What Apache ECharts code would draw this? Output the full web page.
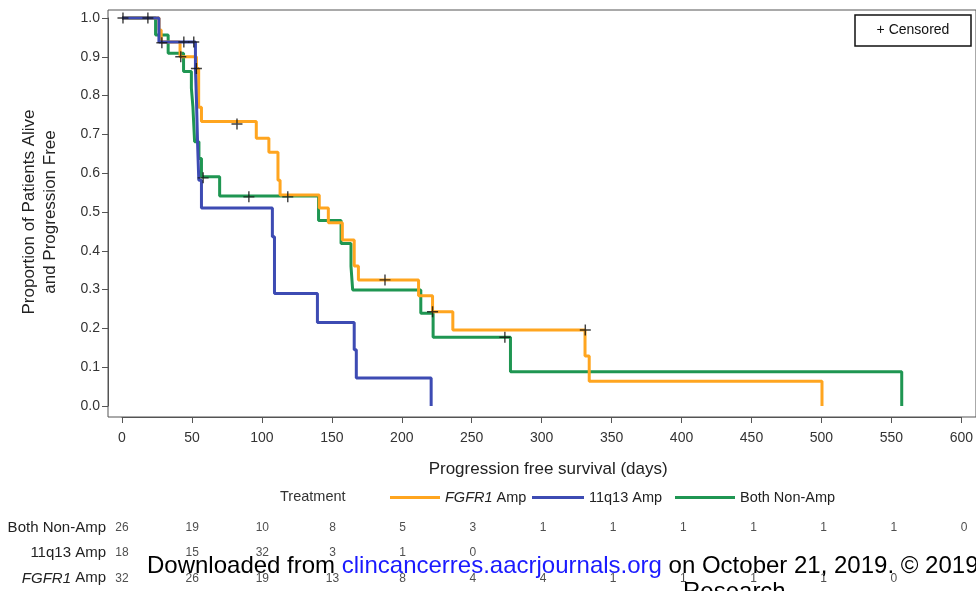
<!DOCTYPE html>
<html>
<head>
    <meta charset="utf-8">
    <title>PFS by treatment</title>
    <script type="text/javascript" src="https://cdn.jsdelivr.net/npm/echarts@6/dist/echarts.min.js"></script>
    <style>
        body { margin: 0; background: #fff; }
    </style>
</head>
<body>
    <div id="main" style="width: 976px;height:591px;"></div>
    <script type="text/javascript">
        // step curves: [day, proportion after that day]
        var fgfr1Steps = [[0, 1], [26.5, 0.969], [28, 0.938], [41.5, 0.900], [53.2, 0.87], [54.8, 0.77], [56.8, 0.733],
            [96, 0.69], [105, 0.654], [111.5, 0.582], [113, 0.544], [141, 0.51], [147.5, 0.472], [157.5, 0.428],
            [166, 0.361], [169, 0.325], [212, 0.284], [222, 0.243], [236.5, 0.196], [331, 0.129], [334, 0.064], [500.4, 0]];
        var q13Steps = [[0, 1], [26.4, 0.938], [52.5, 0.87], [53.3, 0.78], [54, 0.68], [54.9, 0.582], [56.8, 0.51],
            [107.5, 0.436], [109, 0.29], [139.7, 0.215], [166, 0.145], [167.5, 0.072], [221, 0]];
        var bothSteps = [[0, 1], [24, 0.956], [33, 0.909], [44, 0.862], [49.6, 0.819], [50.7, 0.771], [51.9, 0.681],
            [55, 0.638], [56.8, 0.591], [69.8, 0.541], [140.5, 0.478], [156.6, 0.419], [163.7, 0.36], [164.9, 0.299],
            [213.6, 0.239], [222.4, 0.177], [277.7, 0.088], [557.4, 0]];
        // censored marks
        var censored = [[0.7, 1], [18.5, 1], [28.5, 0.936], [44.2, 0.938], [51.3, 0.938], [42, 0.9], [53.2, 0.87],
            [58, 0.588], [82.2, 0.727], [90.7, 0.539], [118.5, 0.539], [188, 0.325], [222, 0.243], [273.7, 0.177], [331.2, 0.196]];

        // numbers at risk
        var riskDays = [0, 50, 100, 150, 200, 250, 300, 350, 400, 450, 500, 550, 600];
        var riskRows = ['FGFR1 Amp', '11q13 Amp', 'Both Non-Amp'];
        var riskBoth = [26, 19, 10, 8, 5, 3, 1, 1, 1, 1, 1, 1, 0];
        var riskQ13 = [18, 15, 32, 3, 1, 0];
        var riskFgfr1 = [32, 26, 19, 13, 8, 4, 4, 1, 1, 1, 1, 0];

        var seriesNames = ['FGFR1 Amp', '11q13 Amp', 'Both Non-Amp'];
        var colors = { 'FGFR1 Amp': '#FFA51F', '11q13 Amp': '#3D4BB3', 'Both Non-Amp': '#1F9652' };

        var font = 'Liberation Sans, Arial, sans-serif';
        var plusPath = 'path://M4.35,0h1.3v10h-1.3z M0,4.35h10v1.3h-10z';

        function riskData(row, values) {
            return values.map(function (v, i) { return [riskDays[i], row, v]; });
        }

        function stepSeries(name, data, z) {
            return {
                name: name,
                type: 'line',
                step: 'end',
                data: data,
                showSymbol: false,
                clip: false,
                z: z,
                lineStyle: { color: colors[name], width: 3 },
                itemStyle: { color: colors[name] },
                silent: true
            };
        }

        function italicName(v) {
            return v === 'FGFR1 Amp' ? '{i|FGFR1} Amp' : v;
        }

        function legendFor(name, left, width) {
            return {
                data: [name],
                left: left, top: 485,
                icon: 'rect', itemWidth: width, itemHeight: 3,
                selectedMode: false,
                textStyle: {
                    fontSize: 14.5, color: '#222', fontFamily: font,
                    rich: { i: { fontStyle: 'italic', fontSize: 14.5, color: '#222', fontFamily: font } }
                },
                formatter: italicName
            };
        }

        var chartDom = document.getElementById('main');
        var myChart = echarts.init(chartDom);
        var option = {
            animation: false,
            textStyle: { fontFamily: font },
            grid: [
                { left: 122, top: 18, width: 842, height: 388 },
                { left: 108, top: 10, width: 870, height: 407, show: true, borderColor: '#555', borderWidth: 1, backgroundColor: 'transparent', z: 1 },
                { left: 122, top: 515, width: 842, height: 78 }
            ],
            xAxis: [
                {
                    gridIndex: 0, type: 'value', min: 0, max: 600, interval: 50, offset: 11,
                    name: 'Progression free survival (days)', nameLocation: 'middle', nameGap: 44,
                    nameTextStyle: { fontSize: 17, color: '#222', fontFamily: font, padding: [0, 0, 0, 13] },
                    axisLine: { show: true, onZero: false, lineStyle: { color: '#555', width: 1 } },
                    axisTick: { show: true, length: 6, lineStyle: { color: '#555' } },
                    axisLabel: { fontSize: 14, color: '#333', margin: 14, fontFamily: font },
                    splitLine: { show: false }
                },
                { gridIndex: 1, type: 'value', min: 0, max: 1, show: false },
                { gridIndex: 2, type: 'value', min: 0, max: 600, show: false }
            ],
            yAxis: [
                {
                    gridIndex: 0, type: 'value', min: 0, max: 1, interval: 0.1, offset: 14,
                    name: 'Proportion of Patients Alive\nand Progression Free', nameLocation: 'middle', nameGap: 47,
                    nameTextStyle: { fontSize: 17, color: '#222', fontFamily: font, lineHeight: 21 },
                    axisLine: { show: true, onZero: false, lineStyle: { color: '#555', width: 1 } },
                    axisTick: { show: true, length: 6, lineStyle: { color: '#555' } },
                    axisLabel: {
                        fontSize: 14, color: '#333', margin: 8, fontFamily: font,
                        formatter: function (v) { return v.toFixed(1); }
                    },
                    splitLine: { show: false }
                },
                { gridIndex: 1, type: 'value', min: 0, max: 1, show: false },
                {
                    gridIndex: 2, type: 'category', data: riskRows, offset: 14,
                    axisLine: { show: false }, axisTick: { show: false },
                    axisLabel: {
                        fontSize: 15, color: '#222', margin: 2, fontFamily: font,
                        formatter: italicName,
                        rich: { i: { fontStyle: 'italic', fontSize: 15, color: '#222', fontFamily: font } }
                    }
                }
            ],
            legend: [
                legendFor('FGFR1 Amp', 385, 50),
                legendFor('11q13 Amp', 527, 52),
                legendFor('Both Non-Amp', 670, 60)
            ],
            graphic: [
                {
                    type: 'text', left: 280, top: 489,
                    style: { text: 'Treatment', fontSize: 14.5, fill: '#333', fontFamily: font }
                },
                {
                    type: 'rect', shape: { x: 855, y: 15, width: 116, height: 31 },
                    style: { fill: '#fff', stroke: '#111', lineWidth: 1.5 }, z: 50
                },
                {
                    type: 'text', x: 913, y: 30.5, z: 51,
                    style: { text: '+ Censored', fontSize: 14, fill: '#111', fontFamily: font, align: 'center', verticalAlign: 'middle' }
                },
                {
                    type: 'text', x: 147, y: 566, z: 100,
                    style: {
                        text: '{a|Downloaded from }{b|clincancerres.aacrjournals.org}{a| on October 21, 2019. © 2019 American Association for Cancer}',
                        verticalAlign: 'middle',
                        rich: {
                            a: { fontSize: 24, fill: '#000', fontFamily: font },
                            b: { fontSize: 24, fill: '#1a1aff', fontFamily: font }
                        }
                    }
                },
                {
                    type: 'text', x: 683, y: 592, z: 100,
                    style: { text: 'Research', fontSize: 24, fill: '#000', fontFamily: font, verticalAlign: 'middle' }
                }
            ],
            series: [
                stepSeries('Both Non-Amp', bothSteps, 2),
                stepSeries('FGFR1 Amp', fgfr1Steps, 3),
                stepSeries('11q13 Amp', q13Steps, 4),
                {
                    name: 'Censored', type: 'scatter', data: censored, clip: false,
                    symbol: plusPath, symbolSize: 11, z: 6, silent: true,
                    itemStyle: { color: '#111' }
                },
                {
                    type: 'scatter', xAxisIndex: 2, yAxisIndex: 2, silent: true,
                    symbolSize: 1, itemStyle: { color: 'transparent' },
                    data: riskData('Both Non-Amp', riskBoth)
                        .concat(riskData('11q13 Amp', riskQ13))
                        .concat(riskData('FGFR1 Amp', riskFgfr1)),
                    label: {
                        show: true, position: 'inside', fontSize: 12, color: '#222', fontFamily: font,
                        formatter: function (p) { return String(p.value[2]); }
                    }
                }
            ]
        };
        option && myChart.setOption(option);
    </script>
</body>
</html>
